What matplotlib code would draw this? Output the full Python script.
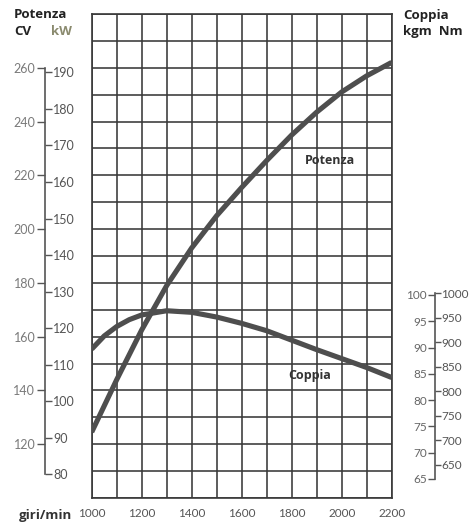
import matplotlib
matplotlib.use("Agg")
import matplotlib.pyplot as plt

plt.rcParams['font.family'] = ['Lato', 'DejaVu Sans']

# ---- data ----
rpm_power = [1000, 1100, 1200, 1300, 1400, 1500, 1600, 1700, 1800, 1900, 2000, 2100, 2200]
power_cv = [124.5, 144, 162.5, 179, 193, 205, 215.5, 225.5, 235, 243.5, 251, 257, 262]

rpm_torque = [1000, 1050, 1100, 1150, 1200, 1300, 1400, 1500, 1600, 1700, 1800, 1900, 2000, 2100, 2200]
torque_kgm = [89.7, 92.2, 94.0, 95.3, 96.2, 97.0, 96.7, 95.8, 94.6, 93.2, 91.4, 89.6, 87.9, 86.2, 84.3]

x_ticks = [1000, 1200, 1400, 1600, 1800, 2000, 2200]
cv_ticks = [120, 140, 160, 180, 200, 220, 240, 260]
kw_ticks = [80, 90, 100, 110, 120, 130, 140, 150, 160, 170, 180, 190]
kgm_ticks = [65, 70, 75, 80, 85, 90, 95, 100]
nm_ticks = [650, 700, 750, 800, 850, 900, 950, 1000]

W, H = 470, 522
fig = plt.figure(figsize=(W / 100, H / 100), dpi=100)

def rect(x0, y0, x1, y1):
    return [x0 / W, 1 - y1 / H, (x1 - x0) / W, (y1 - y0) / H]

TOP, BOT = 14, 498
GRID = '#383838'
CURVE = '#4e4e4e'
BOLD = ['Open Sans', 'DejaVu Sans']

# main grid axes
ax = fig.add_axes(rect(91.7, TOP, 391.7, BOT))
ax.set_xlim(1000, 2200)
ax.set_ylim(100, 280)
ax.set_xticks(x_ticks)
ax.set_xticks(range(1000, 2201, 100), minor=True)
ax.set_yticks(range(100, 281, 10))
ax.set_yticklabels([])
ax.tick_params(which='both', length=0)
ax.tick_params(axis='x', pad=7, labelsize=8.5, labelcolor='#555555')
ax.grid(which='both', color=GRID, lw=1.15)
for s in ax.spines.values():
    s.set_color(GRID)
    s.set_linewidth(1.2)
ax.plot(rpm_power, power_cv, color=CURVE, lw=3.7, solid_capstyle='butt', zorder=3)

# torque drawn on kgm scale
kgm_lo, kgm_hi = 61.38, 153.45
axt = ax.twinx()
axt.set_ylim(kgm_lo, kgm_hi)
axt.set_axis_off()
axt.plot(rpm_torque, torque_kgm, color=CURVE, lw=3.7, solid_capstyle='butt', zorder=3)

ax.text(1953, 225.7, 'Potenza', fontsize=9, fontweight='bold', color='#333333',
        family=BOLD, ha='center', va='center', zorder=4)
ax.text(1873, 145.4, 'Coppia', fontsize=9, fontweight='bold', color='#333333',
        family=BOLD, ha='center', va='center', zorder=4)

# left scale: CV (left) and kW (right)
CV_PER_KW = 1 / 0.7355
axl = fig.add_axes(rect(45, TOP, 45.01, BOT))
axl.set_ylim(100, 280)
axl.patch.set_visible(False)
for k in ['top', 'right', 'bottom']:
    axl.spines[k].set_visible(False)
axl.spines['left'].set_bounds(80 * CV_PER_KW, 260)
axl.spines['left'].set_color('#555555')
axl.spines['left'].set_linewidth(1.2)
axl.set_xticks([])
axl.set_yticks(cv_ticks)
axl.tick_params(axis='y', direction='out', length=6, width=1, color='#555555',
                labelsize=9, labelcolor='#7a7a7a', pad=1)

axk = fig.add_axes(rect(45, TOP, 45.01, BOT))
axk.set_ylim(100 * 0.7355, 280 * 0.7355)
axk.patch.set_visible(False)
for s in axk.spines.values():
    s.set_visible(False)
axk.set_xticks([])
axk.yaxis.tick_right()
axk.set_yticks(kw_ticks)
axk.tick_params(axis='y', direction='out', length=5, width=1, color='#555555',
                labelsize=9, labelcolor='#555555', pad=1)

# right scale: kgm (left) and Nm (right)
axg = fig.add_axes(rect(435, TOP, 435.01, BOT))
axg.set_ylim(kgm_lo, kgm_hi)
axg.patch.set_visible(False)
for k in ['top', 'right', 'bottom']:
    axg.spines[k].set_visible(False)
axg.spines['left'].set_bounds(65, 100.38)
axg.spines['left'].set_color('#555555')
axg.spines['left'].set_linewidth(1.2)
axg.set_xticks([])
axg.set_yticks(kgm_ticks)
axg.tick_params(axis='y', direction='out', length=5, width=1, color='#555555',
                labelsize=8.5, labelcolor='#666666', pad=1)

axn = fig.add_axes(rect(435, TOP, 435.01, BOT))
axn.set_ylim(582.8, 1567.8)
axn.patch.set_visible(False)
for s in axn.spines.values():
    s.set_visible(False)
axn.set_xticks([])
axn.yaxis.tick_right()
axn.set_yticks(nm_ticks)
axn.tick_params(axis='y', direction='out', length=4, width=1, color='#555555',
                labelsize=8.5, labelcolor='#555555', pad=0.5)

# headers
def ftext(x, y, s, **kw):
    fig.text(x / W, 1 - y / H, s, va='center', family=BOLD, fontweight='bold', **kw)

ftext(14, 15, 'Potenza', fontsize=9.5, color='#222222')
ftext(14, 31, 'CV', fontsize=9.5, color='#222222')
ftext(51, 31, 'kW', fontsize=9.5, color='#8a8a6e')
ftext(403, 15, 'Coppia', fontsize=9.5, color='#222222')
ftext(403, 31, 'kgm  Nm', fontsize=9.5, color='#222222')
ftext(19, 515, 'giri/min', fontsize=9.5, color='#333333')

fig.savefig('out.png', dpi=100)
